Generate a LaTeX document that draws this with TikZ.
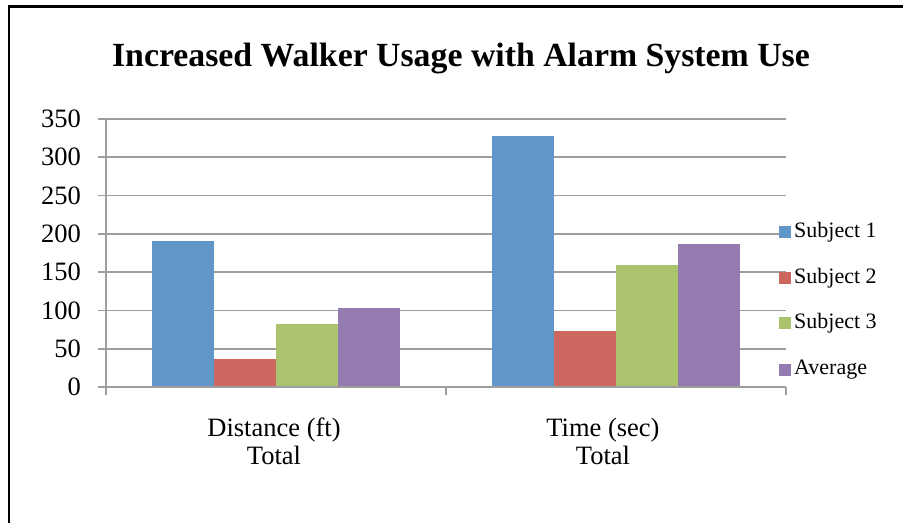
\documentclass[tikz,border=0pt]{standalone}
\usepackage{fontspec}
\setmainfont{Liberation Serif}
\definecolor{sone}{RGB}{97,150,201}
\definecolor{stwo}{RGB}{204,102,94}
\definecolor{sthree}{RGB}{170,195,108}
\definecolor{savg}{RGB}{148,124,177}
\definecolor{gridgray}{RGB}{158,158,158}
\begin{document}
\begin{tikzpicture}[x=1pt,y=-1pt,
  grid/.style={draw=gridgray,line width=1.6pt},
  ticklabel/.style={anchor=east,inner sep=0pt,font=\fontsize{26.5}{30}\selectfont},
  legendkey/.style={minimum size=12pt,inner sep=0pt,draw=none},
  legendtext/.style={anchor=west,inner sep=0pt,font=\fontsize{22}{25}\selectfont},
  catlabel/.style={align=center,inner sep=0pt,font=\fontsize{26.5}{28}\selectfont},
  charttitle/.style={inner sep=0pt,font=\bfseries\fontsize{33.8}{38}\selectfont}]
\useasboundingbox (0,0) rectangle (903,523);
\fill[white] (0,0) rectangle (903,523);
% frame of the chart area
\draw[line width=2.5pt] (9,523) -- (9,6.5) -- (903,6.5);
% title
\node[charttitle] (title) at (461,58) {Increased Walker Usage with Alarm System Use};
% horizontal gridlines and value labels
\foreach \v in {0,50,...,350}{
  \draw[grid] (98,{387-0.7657*\v}) -- (786,{387-0.7657*\v});
  \node[ticklabel] (lab\v) at (81,{387-0.7657*\v}) {\v};
}
% bars: category 1
\foreach \i/\v/\c in {0/191/sone,1/36.5/stwo,2/81.8/sthree,3/103.1/savg}{
  \fill[\c] ({152+62*\i},387) rectangle ({214+62*\i},{387-0.7657*\v});
}
% bars: category 2
\foreach \i/\v/\c in {0/327.7/sone,1/72.7/stwo,2/159/sthree,3/186.5/savg}{
  \fill[\c] ({492+62*\i},387) rectangle ({554+62*\i},{387-0.7657*\v});
}
% axes
\draw[grid] (106,119) -- (106,395);
\draw[grid] (98,387) -- (786,387);
\draw[grid] (446,387) -- (446,395);
\draw[grid] (786,387) -- (786,395);
% category labels
\node[catlabel] (cat1) at (274,441) {Distance (ft)\\Total};
\node[catlabel] (cat2) at (603,441) {Time (sec)\\Total};
% legend
\foreach \y/\c/\t [count=\k] in {232/sone/Subject 1,278/stwo/Subject 2,323/sthree/Subject 3,370/savg/Average}{
  \node[legendkey,fill=\c] (key\k) at (785,\y) {};
  \node[legendtext] (ltext\k) at (794,\y) {\t};
}
\end{tikzpicture}
\end{document}
